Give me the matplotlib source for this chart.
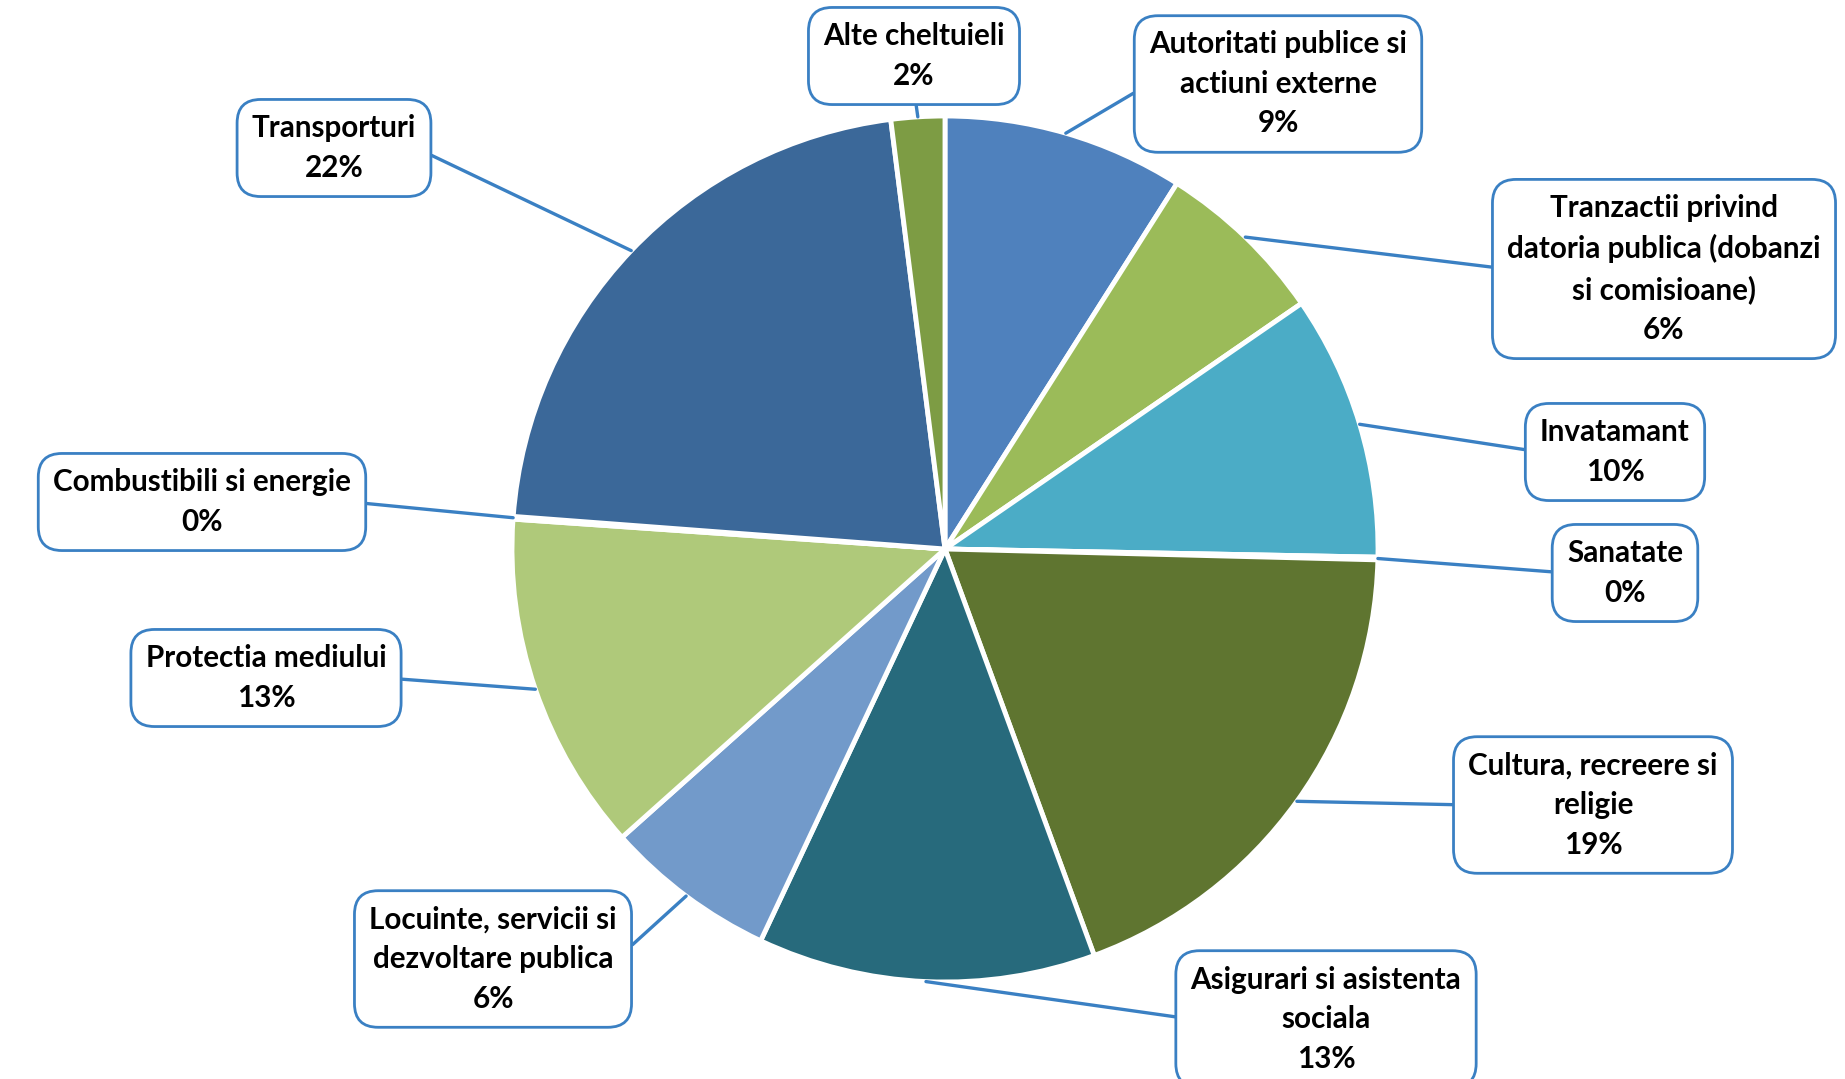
import numpy as np
import matplotlib.pyplot as plt

W, H = 1845, 1079

# data
categories = [
    "Autoritati publice si\nactiuni externe",
    "Tranzactii privind\ndatoria publica (dobanzi\nsi comisioane)",
    "Invatamant",
    "Sanatate",
    "Cultura, recreere si\nreligie",
    "Asigurari si asistenta\nsociala",
    "Locuinte, servicii si\ndezvoltare publica",
    "Protectia mediului",
    "Combustibili si energie",
    "Transporturi",
    "Alte cheltuieli",
]
values = [9.0, 6.4, 9.9, 0.1, 19.0, 12.6, 6.4, 12.7, 0.1, 21.8, 2.0]

colors = ["#4F81BD", "#9BBB59", "#4BACC6", "#F79646", "#5F7530",
          "#276A7C", "#729ACA", "#AFC97A", "#C0504D", "#3B6899", "#7D9C44"]

# label box centres (pixels, y from top) and which side the leader line attaches to
label_xy = [(1278, 84), (1664, 269), (1615, 452), (1625, 573), (1593, 805),
            (1326, 1019), (493, 959), (266, 678), (202, 502), (334, 148), (914, 56)]
label_rel = [(0, 0.5), (0, 0.5), (0, 0.5), (0, 0.5), (0, 0.5),
             (0, 0.5), (1, 0.5), (1, 0.5), (1, 0.5), (1, 0.5), (0.5, 0)]

blue = "#3A80C3"
cx, cy, r = 945, H - 549, 433

fig = plt.figure(figsize=(W / 100, H / 100), dpi=100)
ax = fig.add_axes([0, 0, 1, 1])

wedges, _ = ax.pie(values, colors=colors, startangle=90, counterclock=False,
                   center=(cx, cy), radius=r,
                   wedgeprops=dict(edgecolor="white", linewidth=3.5))
ax.set_xlim(0, W)
ax.set_ylim(0, H)
ax.set_aspect("equal")
ax.axis("off")

for w, name, v, (lx, ly), rp in zip(wedges, categories, values, label_xy, label_rel):
    mid = np.deg2rad((w.theta1 + w.theta2) / 2)
    anchor = (cx + r * np.cos(mid), cy + r * np.sin(mid))
    ax.annotate(f"{name}\n{round(v)}%", xy=anchor, xytext=(lx, H - ly),
                ha="center", va="center", fontsize=21.3, fontweight="bold",
                family="Lato", linespacing=1.5, color="black",
                bbox=dict(boxstyle="round,pad=0.5,rounding_size=0.8",
                          fc="white", ec=blue, lw=2),
                arrowprops=dict(arrowstyle="-", color=blue, lw=2.4,
                                shrinkA=0, shrinkB=0, relpos=rp))

fig.savefig("out.png", dpi=100)
